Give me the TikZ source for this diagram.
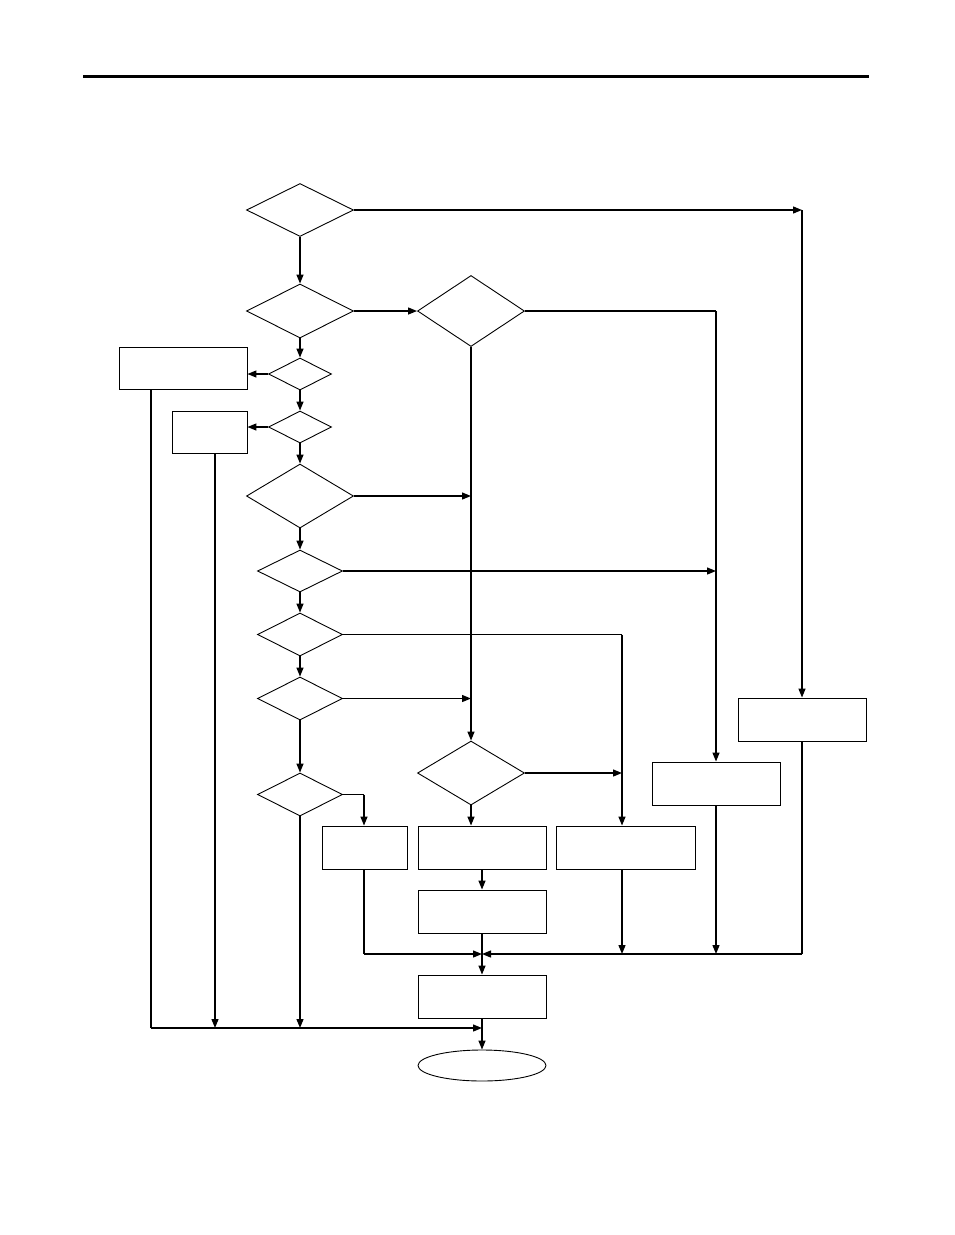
\documentclass[tikz,border=0pt]{standalone}
\usetikzlibrary{shapes.geometric,arrows.meta}
\begin{document}
\begin{tikzpicture}[x=1pt,y=-1pt,
 dia/.style={draw,diamond,inner sep=0pt,line width=0.9pt},
 box/.style={draw,rectangle,inner sep=0pt,line width=0.9pt},
 oval/.style={draw,ellipse,inner sep=0pt,line width=0.9pt},
 ln/.style={line width=1.3pt},
 arr/.style={ln,-{Triangle[length=9pt,width=7pt]}},
]
\useasboundingbox (0,0) rectangle (954,1235);
\coordinate (ruleL) at (83,76);
\coordinate (ruleR) at (869,76);
\draw[line width=3pt] (ruleL) -- (ruleR);

% diamonds
\node[dia,minimum width=107pt,minimum height=53pt] (d1) at (300,210) {};
\node[dia,minimum width=107pt,minimum height=54pt] (d2) at (300,311) {};
\node[dia,minimum width=107pt,minimum height=71pt] (d3) at (471,311) {};
\node[dia,minimum width=63pt,minimum height=32pt] (d4) at (300,374) {};
\node[dia,minimum width=63pt,minimum height=32pt] (d5) at (300,427) {};
\node[dia,minimum width=107pt,minimum height=64pt] (d6) at (300,496) {};
\node[dia,minimum width=85pt,minimum height=42pt] (d8) at (300,571) {};
\node[dia,minimum width=85pt,minimum height=43pt] (d9) at (300,634.5) {};
\node[dia,minimum width=85pt,minimum height=43pt] (d10) at (300,698.5) {};
\node[dia,minimum width=85pt,minimum height=43pt] (d11) at (300,794.5) {};
\node[dia,minimum width=107pt,minimum height=64pt] (d7) at (471,773) {};

% boxes
\node[box,minimum width=128pt,minimum height=42pt] (A) at (183,368) {};
\node[box,minimum width=75pt,minimum height=42pt] (B) at (209.5,432) {};
\node[box,minimum width=128pt,minimum height=43pt] (R) at (802,719.5) {};
\node[box,minimum width=128pt,minimum height=43pt] (M) at (716,783.5) {};
\node[box,minimum width=85pt,minimum height=43pt] (E) at (364.5,847.5) {};
\node[box,minimum width=128pt,minimum height=43pt] (F) at (482,847.5) {};
\node[box,minimum width=139pt,minimum height=43pt] (C) at (625.5,847.5) {};
\node[box,minimum width=128pt,minimum height=43pt] (G) at (482,911.5) {};
\node[box,minimum width=128pt,minimum height=43pt] (H) at (482,996.5) {};
\node[oval,minimum width=128pt,minimum height=31pt] (end) at (482,1065.5) {};

% junction coordinates
\coordinate (jR) at (802,210);
\coordinate (jM) at (716,311);
\coordinate (j6) at (471,496);
\coordinate (j8) at (716,571);
\coordinate (j9) at (622,634.5);
\coordinate (j10) at (471,698.5);
\coordinate (j11) at (364,794.5);
\coordinate (j7) at (622,773);
\coordinate (jm) at (482,954);
\coordinate (jmE) at (364,954);
\coordinate (jmR) at (802,954);
\coordinate (jmC) at (622,954);
\coordinate (jmM) at (716,954);
\coordinate (jb) at (482,1028);
\coordinate (jbA) at (151,1028);
\coordinate (jbB) at (215,1028);
\coordinate (jbD) at (300,1028);

% main spine
\draw[arr] (d1.south) -- (d2.north);
\draw[arr] (d2.south) -- (d4.north);
\draw[arr] (d4.south) -- (d5.north);
\draw[arr] (d5.south) -- (d6.north);
\draw[arr] (d6.south) -- (d8.north);
\draw[arr] (d8.south) -- (d9.north);
\draw[arr] (d9.south) -- (d10.north);
\draw[arr] (d10.south) -- (d11.north);

% branches
\draw[arr] (d1.east) -- (jR);
\draw[arr] (jR) -- (R.north);
\draw[arr] (d2.east) -- (d3.west);
\draw[ln] (d3.east) -- (jM);
\draw[arr] (jM) -- (M.north);
\draw[arr] (d3.south) -- (d7.north);
\draw[arr] (d4.west) -- (d4.west -| A.east);
\draw[arr] (d5.west) -- (d5.west -| B.east);
\draw[arr] (d6.east) -- (j6);
\draw[arr] (d8.east) -- (j8);
\draw[ln] (d9.east) -- (j9);
\draw[arr] (j9) -- (j9 |- C.north);
\draw[arr] (d10.east) -- (j10);
\draw[ln] (d11.east) -- (j11);
\draw[arr] (j11) -- (j11 |- E.north);
\draw[arr] (d7.east) -- (j7);
\draw[arr] (d7.south) -- (d7.south |- F.north);
\draw[arr] (F.south) -- (G.north);

% merge into H
\draw[ln] (j11 |- E.south) -- (jmE);
\draw[arr] (jmE) -- (jm);
\draw[ln] (G.south) -- (jm);
\draw[arr] (jm) -- (H.north);
\draw[arr] (j9 |- C.south) -- (jmC);
\draw[arr] (M.south) -- (jmM);
\draw[ln] (R.south) -- (jmR);
\draw[arr] (jmR) -- (jm);

% bottom merge
\draw[ln] (A.south -| jbA) -- (jbA);
\draw[arr] (jbA) -- (jb);
\draw[arr] (B.south -| jbB) -- (jbB);
\draw[arr] (d11.south) -- (jbD);
\draw[arr] (H.south) -- (end.north);
\end{tikzpicture}
\end{document}
